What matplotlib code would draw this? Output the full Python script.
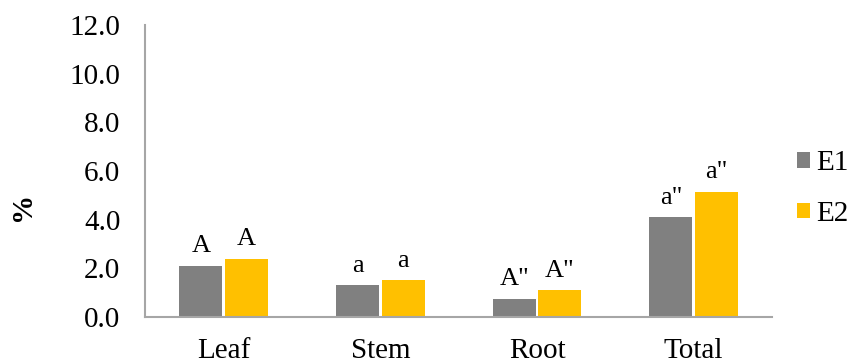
import matplotlib.pyplot as plt
import numpy as np

plt.rcParams['font.family'] = ['Liberation Serif', 'DejaVu Serif']

# data
categories = ['Leaf', 'Stem', 'Root', 'Total']
e1_values = [2.1, 1.3, 0.75, 4.1]
e2_values = [2.4, 1.5, 1.1, 5.15]
e1_letters = ['A', 'a', 'A"', 'a"']
e2_letters = ['A', 'a', 'A"', 'a"']
series_names = ['E1', 'E2']

fig = plt.figure(figsize=(8.55, 3.63), dpi=100)
ax = fig.add_axes([0.170, 0.127, 0.733, 0.804])

x = np.arange(len(categories))
w = 0.275
b1 = ax.bar(x - w / 2 - 0.008, e1_values, w, color='#808080', label=series_names[0])
b2 = ax.bar(x + w / 2 + 0.008, e2_values, w, color='#FFC000', label=series_names[1])

# significance letters above bars
for bars, letters in [(b1, e1_letters), (b2, e2_letters)]:
    for bar, txt in zip(bars, letters):
        ax.annotate(txt, (bar.get_x() + bar.get_width() / 2, bar.get_height()),
                    xytext=(0, 6), textcoords='offset points',
                    ha='center', va='bottom', fontsize=19)

ax.set_xlim(-0.5, len(categories) - 0.5)
ax.set_ylim(0, 12)
ax.set_yticks(np.arange(0, 12.1, 2))
ax.set_yticklabels([f'{v:.1f}' for v in np.arange(0, 12.1, 2)], fontsize=21)
ax.set_xticks(x)
ax.set_xticklabels(categories, fontsize=21)
ax.tick_params(length=0)
ax.tick_params(axis='y', pad=18)
ax.tick_params(axis='x', pad=15)

for s in ['top', 'right']:
    ax.spines[s].set_visible(False)
for s in ['left', 'bottom']:
    ax.spines[s].set_color('#A6A6A6')
    ax.spines[s].set_linewidth(1.5)

fig.text(0.026, 0.43, '%', rotation=90, fontsize=21, fontweight='bold',
         ha='center', va='center')

ax.legend(loc='center left', bbox_to_anchor=(1.012, 0.44), frameon=False,
          fontsize=21, handlelength=0.45, handleheight=0.45, handletextpad=0.2,
          labelspacing=0.85, borderaxespad=0.2)

fig.savefig('out.png', dpi=100)
